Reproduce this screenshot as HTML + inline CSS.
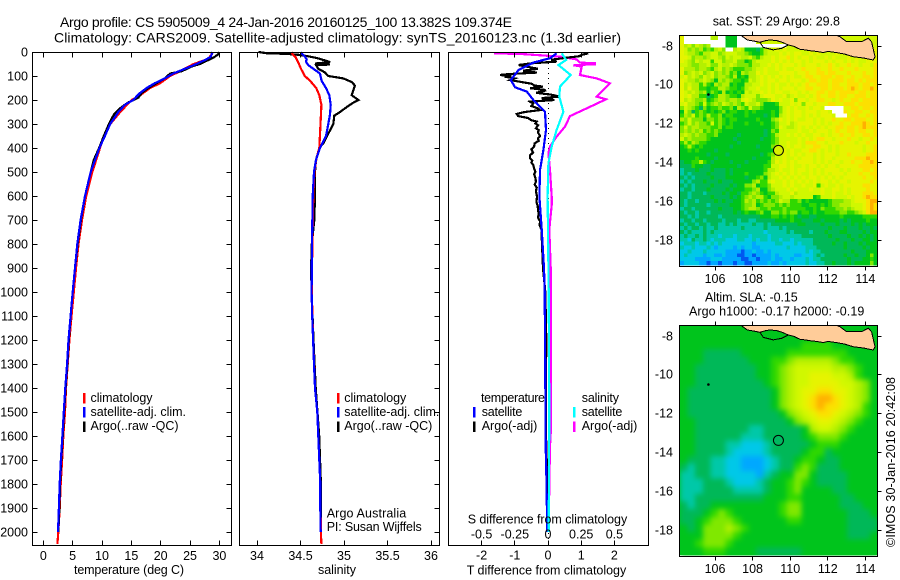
<!DOCTYPE html>
<html lang="en">
<head>
<meta charset="utf-8">
<title>Argo profile 5905009</title>
<style>
html,body{margin:0;padding:0;background:#fff;}
svg{display:block;}
text{font-family:"Liberation Sans",sans-serif;font-size:12.5px;fill:#000;}
.big{font-size:14px;}
</style>
</head>
<body>
<svg id="chart" xmlns="http://www.w3.org/2000/svg" width="900" height="580" viewBox="0 0 900 580">
<defs>
<clipPath id="clip-map1"><rect x="680" y="36" width="197" height="230"/></clipPath>
<clipPath id="clip-map2"><rect x="680" y="326" width="197" height="230"/></clipPath>
<filter id="smooth" x="-5%" y="-5%" width="110%" height="110%" color-interpolation-filters="sRGB"><feGaussianBlur stdDeviation="2.6"/></filter>
</defs>
<rect x="0" y="0" width="900" height="580" fill="#fff"/>

<text class="big" x="60" y="27" textLength="452" lengthAdjust="spacing">Argo profile: CS 5905009_4 24-Jan-2016 20160125_100 13.382S 109.374E</text>
<text class="big" x="54" y="42.5" textLength="567" lengthAdjust="spacing">Climatology: CARS2009. Satellite-adjusted climatology: synTS_20160123.nc (1.3d earlier)</text>

<g id="heat1"></g>
<g id="heat2"></g>
<g id="marks"></g>
<g id="axes"></g>

<text x="74" y="574" textLength="110" lengthAdjust="spacing">temperature (deg C)</text>
<text x="318" y="574" textLength="38" lengthAdjust="spacing">salinity</text>
<text x="466.7" y="574.5" textLength="159.5" lengthAdjust="spacing">T difference from climatology</text>
<text x="467.7" y="523.5" textLength="159.5" lengthAdjust="spacing">S difference from climatology</text>

<g>
<rect x="83" y="393" width="2.5" height="10.5" fill="#f00"/>
<rect x="83" y="407" width="2.5" height="10.5" fill="#00f"/>
<rect x="83" y="421.5" width="2.5" height="10.5" fill="#000"/>
<text x="90.5" y="402" textLength="62" lengthAdjust="spacing">climatology</text>
<text x="90.5" y="416" textLength="95.5" lengthAdjust="spacing">satellite-adj. clim.</text>
<text x="90.5" y="430" textLength="88" lengthAdjust="spacing">Argo(..raw -QC)</text>
</g>
<g>
<rect x="337" y="393" width="2.5" height="10.5" fill="#f00"/>
<rect x="337" y="407" width="2.5" height="10.5" fill="#00f"/>
<rect x="337" y="421.5" width="2.5" height="10.5" fill="#000"/>
<text x="344.3" y="402" textLength="62" lengthAdjust="spacing">climatology</text>
<text x="344.3" y="416" textLength="95" lengthAdjust="spacing">satellite-adj. clim.</text>
<text x="344.3" y="430" textLength="88" lengthAdjust="spacing">Argo(..raw -QC)</text>
<text x="326.7" y="517.5" textLength="79.5" lengthAdjust="spacing">Argo Australia</text>
<text x="326.7" y="531" textLength="95" lengthAdjust="spacing">PI: Susan Wijffels</text>
</g>
<g>
<text x="481" y="402" textLength="64" lengthAdjust="spacing">temperature</text>
<text x="481.7" y="416" textLength="40.6" lengthAdjust="spacing">satellite</text>
<text x="481.7" y="430" textLength="55.6" lengthAdjust="spacing">Argo(-adj)</text>
<text x="581.7" y="402" textLength="37.3" lengthAdjust="spacing">salinity</text>
<text x="581.7" y="416" textLength="40.6" lengthAdjust="spacing">satellite</text>
<text x="581.7" y="430" textLength="55.6" lengthAdjust="spacing">Argo(-adj)</text>
<rect x="473" y="407" width="2.5" height="10.5" fill="#00f"/>
<rect x="473" y="421.5" width="2.5" height="10.5" fill="#000"/>
<rect x="573" y="407" width="2.5" height="10.5" fill="#0ff"/>
<rect x="573" y="421.5" width="2.5" height="10.5" fill="#f0f"/>
</g>

<text x="712.7" y="25.7" textLength="127.3" lengthAdjust="spacing">sat. SST: 29 Argo: 29.8</text>
<text x="705" y="301.5" textLength="92.7" lengthAdjust="spacing">Altim. SLA: -0.15</text>
<text x="689" y="315.7" textLength="175.3" lengthAdjust="spacing">Argo h1000: -0.17 h2000: -0.19</text>
<text transform="translate(895,547) rotate(-90)" x="0" y="0" textLength="170" lengthAdjust="spacing">©IMOS 30-Jan-2016 20:42:08</text>
</svg>

<script>
// ---------- profile data: [depth, value] ----------
const tempClim = [[0,28.7],[10,28.7],[30,28],[50,25.6],[80,23.3],[100,21.6],[130,19.9],[150,18.2],[180,16.5],[200,15.05],[250,13.1],[300,11.4],[350,10.3],[400,9.66],[500,8.35],[600,7.3],[700,6.6],[800,6],[900,5.57],[1000,5.2],[1100,4.8],[1200,4.45],[1300,4.15],[1400,3.87],[1500,3.7],[1600,3.4],[1700,3.2],[1800,2.96],[1900,2.8],[2000,2.55],[2050,2.4]];
const tempSat = [[0,28.85],[20,28.5],[30,27.8],[50,26.1],[70,24.1],[90,22.1],[110,20.7],[130,19],[150,17.6],[170,16.5],[200,15.3],[220,13.9],[250,12.8],[300,11.4],[350,10.5],[400,9.55],[500,8.07],[600,7.1],[700,6.35],[800,5.8],[900,5.4],[1000,5],[1100,4.65],[1200,4.3],[1300,4.05],[1400,3.75],[1500,3.5],[1600,3.25],[1700,3],[1800,2.8],[1900,2.65],[2000,2.5]];
const tempArgo = [[0,30],[10,29.8],[20,29.2],[30,28.4],[50,26.7],[60,25.3],[80,23.6],[90,21.6],[110,20.7],[130,19.3],[150,17.9],[170,16.8],[190,16.2],[210,14.5],[230,13.3],[255,12.2],[270,11.8],[300,11.2],[350,10.3],[400,9.5],[450,8.6],[500,8.07],[600,7.1],[700,6.4],[800,5.85],[900,5.4],[1000,5],[1100,4.65],[1200,4.35],[1300,4.1],[1400,3.8],[1500,3.55],[1600,3.3],[1700,3.05],[1800,2.85],[1900,2.75],[2000,2.55]];

const salClim = [[0,34.398],[10,34.41],[20,34.44],[40,34.47],[70,34.506],[100,34.55],[120,34.61],[150,34.68],[180,34.716],[220,34.74],[300,34.73],[400,34.716],[430,34.693],[450,34.68],[500,34.66],[600,34.647],[800,34.636],[1000,34.63],[1200,34.645],[1400,34.667],[1500,34.693],[1600,34.705],[1700,34.716],[1800,34.728],[1900,34.73],[2000,34.735],[2050,34.74]];
const salSat = [[0,34.506],[10,34.525],[20,34.552],[30,34.571],[40,34.563],[55,34.59],[70,34.648],[90,34.724],[120,34.743],[150,34.793],[180,34.831],[220,34.847],[260,34.839],[300,34.82],[350,34.793],[400,34.724],[450,34.678],[500,34.655],[600,34.64],[800,34.632],[1000,34.628],[1100,34.635],[1200,34.645],[1300,34.655],[1400,34.667],[1500,34.693],[1600,34.705],[1700,34.716],[1800,34.728],[1900,34.728],[2000,34.732]];
const salArgo = [[0,34.015],[5,34.11],[8,34.34],[12,34.49],[18,34.59],[25,34.686],[35,34.78],[42,34.84],[48,34.667],[52,34.84],[55,34.68],[70,34.705],[85,34.78],[100,34.82],[110,34.992],[125,35.088],[140,35.126],[160,35.107],[180,35.088],[200,35.165],[215,35.088],[230,35.03],[255,34.935],[265,34.889],[300,34.877],[340,34.82],[380,34.762],[400,34.716],[450,34.678],[500,34.667],[600,34.667],[700,34.659],[800,34.63],[900,34.622],[1000,34.628],[1200,34.65],[1400,34.675],[1600,34.715],[1800,34.735],[2000,34.735]];

const tDiffArgo = [[6,1.21],[12,1],[17,.96],[25,.5],[32,.1],[40,.26],[47,-.5],[54,-.89],[62,-.6],[70,-.3],[78,-.75],[86,-.34],[92,-1.2],[96,-1.45],[100,-1.1],[103,-1.3],[110,-1],[117,-1.14],[125,-.8],[132,-.5],[140,-.4],[144,-.15],[151,-.54],[158,-.1],[161,-.09],[170,-.35],[178,.1],[186,.36],[192,-.2],[200,.2],[207,-.54],[215,-.45],[225,-.5],[235,-.3],[242,-.24],[250,-.7],[258,-.94],[267,-.9],[275,-.6],[284,-.5],[290,-.34],[298,-.38],[305,-.3],[318,-.36],[326,-.28],[335,-.3],[350,-.24],[360,-.3],[370,-.28],[381,-.4],[395,-.42],[405,-.5],[419,-.45],[430,-.54],[443,-.54],[452,-.47],[460,-.5],[472,-.44],[485,-.42],[500,-.38],[510,-.42],[519,-.39],[540,-.36],[552,-.4],[565,-.34],[580,-.36],[603,-.33],[625,-.35],[640,-.31],[660,-.3],[672,-.28],[690,-.3],[705,-.24],[722,-.25],[739,-.2],[800,-.18],[900,-.15],[1000,-.08],[1200,-.05],[1350,-.06],[1550,-.07],[1700,-.04],[2000,-.02]];
const tDiffSat = [[6,.26],[26,.06],[44,-.44],[75,-.89],[117,-1.12],[147,-.99],[165,-.64],[200,-.44],[228,-.24],[249,-.09],[325,-.06],[408,-.14],[492,-.24],[603,-.26],[739,-.19],[900,-.12],[1000,-.1],[1367,-.08],[1645,-.07],[1750,-.05],[2000,-.02]];
const sDiffSat = [[6,.103],[33,.136],[54,.078],[96,.171],[144,.09],[186,.085],[249,.116],[325,.065],[394,.028],[464,.003],[603,-.003],[739,0],[1000,.005],[1500,.01],[2000,.005]];
const sDiffArgo = [[6,-.407],[8,-.211],[19,.09],[31,.216],[44,.241],[47,.354],[51,.354],[55,.191],[61,.254],[96,.241],[110,.367],[131,.467],[158,.417],[186,.367],[197,.437],[235,.291],[267,.166],[311,.128],[353,.065],[394,.015],[422,.003],[492,.015],[603,.028],[637,.028],[739,.01],[900,.02],[1367,.023],[1560,.023],[1640,.015],[1800,.01],[2000,.005]];

// ---------- tick labels ----------
const depthTicks = [0,100,200,300,400,500,600,700,800,900,1000,1100,1200,1300,1400,1500,1600,1700,1800,1900,2000];
const tempTicks = [0,5,10,15,20,25,30];
const salTicks = [34,34.5,35,35.5,36];
const tDiffTicks = [-2,-1,0,1,2];
const sDiffTicks = [-0.5,-0.25,0,0.25,0.5];
const lonTicks = [106,108,110,112,114];
const latTicks = [-8,-10,-12,-14,-16,-18];

// ---------- map data: colour level per cell ----------
const levelColours = {'0':'#0058f0','1':'#00a8ff','2':'#00c8e8','3':'#00c8a8','4':'#00b858','5':'#00c41c','6':'#30d800','7':'#80e800','8':'#b4f000','9':'#d0f800','a':'#e6f400','b':'#fce000','c':'#ffb000','w':'#ffffff'};
const sstRows = [
"awwwwwww88ww555www9999999999999999999999999999999999",
"awwwwwwwwwww555wwwww99999999999999999999999999999999",
"a8979878wwww555wwwwwwwwwwwww99999999999999999999a999",
"a97878676897ww89855546899a9a999999999999999999999baa",
"a9887688997899988765568999a9a9aa99a9a9999a99a9999baa",
"aa9788789987989988976899a9aab9a9aa9a99a9a999a9a9aa9a",
"a98798996997889775689999a9a9a9aa9a9aaa9a9aa9a9a99aaa",
"99877889779889877768899a9a9aaa9a9aaa9aaba9aabaa9aa9b",
"a888788768978766677899a99a9a99aabaaabaabaabaaabaaaab",
"a7898978978786758788a9a999aaaa9aabaabbabbaaabaaabaab",
"9a8987989788768565889a9a9a9a9a99abbaabbbabbaabaabbab",
"a98878987587876656989a9aa9aa9aaa9abbabbabbbabbababbb",
"a89886865878856558899a9a9a99a9a9abaabbbabbaabbbabbab",
"a8a88665668876656899a99a9a9aaa9aabbaabbabbbabcbabbcb",
"a98987857658565659899a9a9aa99aa9a9aabbabbabbbbabbabb",
"a9a8866456887665899979aaa99a89a99a9abaabbabbaabbbabb",
"a8987785678878879a987778a9a99a7aa9aabbaa9abaabbabbbb",
"9a887696787987876988975556999a9a7aa9aaabbaabbbabbbbb",
"7987647566766758769776555579a9a99a9aa9wwwwwaabbabbab",
"5974676565675665565655556579a9aa9aaa9aa9wwwbaabbaabb",
"6879676866756655565555456589a9aa9a9a9aaa9wwwabbaabab",
"87977757767656655555655578a9a9a99aa9a9aabaabbabbbaab",
"6797877696765655565556556799a89aaaa9a9a9aabaabbbcbab",
"79788777667566555555555567a9889a9a9a9a9aabbabbabcbbb",
"7878786767655555555555457699999a99a9aaa9abaabbabbaab",
"8987877667555554555555456899a9a9a99aa9a9aabaabaabbab",
"9787777655555545555554556799999a9a9abbaa9aaabaa9aaba",
"6868766555555554555555556799a99a9bbbaa9aaabaaa9aabaa",
"5686565555555455555545557899a9aa9aabbaa9a9aaaaaa9aab",
"556565555455555555555555589a9a99aabba9a9a9aaaaaa9aab",
"555555545555455555555456799a9a9a9aa9a9aaa9aabaaaabbb",
"555565555455555555545555899a99a9aaa9a9aa9aaaaabbbcbb",
"4556686545555455545555568a9a9a9aaaa9a9a9aa9aabaabbcb",
"44465544555555545555556699aa9a99a9aa9a9aa9aaaaabbbbb",
"34445444544454555555556889a99a9aa9a9a9aaaa9a9aaabbab",
"3434444544445455565555789a9a9a9a99a9a9a9aaa9aaabaabb",
"43434444544455555455675899a9a9a9a9aa9a9a9a9aaaaabaab",
"343444544454445555578669a99a9a9a9a9a9aa9a9aa9aaaaaba",
"434344445444454557785667999a9a99a99a69a99a9aaaaabbaa",
"3443444544445455566785578999a9a999a99a99aa9a9aaaabaa",
"44344434444545546678765668999a8999999a99a99a9aaabbba",
"4434444454444545678788657789989999956999a999a9aabcbb",
"4344344445454455687867676798866756555556777889aaabcc",
"434444434444455567785677767676665566565677888999abcb",
"344344444454445567887667666766666556576667787899abcb",
"4344344344444454565567557767677566565566667766789bcc",
"4434344444344444444445556656565455445555556555556666",
"3443443444434443443344444555565544455455554545555655",
"4344344344334343333433434444444554444544454445454555",
"3434434334333333433333433343444444444445444544454454",
"4343334343333333333333233333434444344454445544445455",
"3433434333233323332333323333333344444445444454454545",
"3324334323332223322323323323323333344444454445445545",
"2333233232322222222122222332223233344444544544454555",
"3223222321222212122112222222322223334444444544445455",
"2232223222221111011211212222222223233444444445444555",
"2322221221121110011011112122221122234344444544544575",
"2222111122211111001101112112212223233444444454445565",
"1222211011011101100111121121222223223344544454555575"
];
const slaRows = [
"55555555555555555555555555",
"55555555555555555555555555",
"55555555555555556666555555",
"55544444555555666666665555",
"55544444455566788888766555",
"55444444445567899999887655",
"55444444445567899aaa998655",
"55444444444567899aaaa99875",
"5444444444445789aabbaa9875",
"5444444444445789abccba9875",
"5444444444445789abcbba9865",
"54444444444445789abba98765",
"55444444444444578 9aa987655".replace(' ',''),
"55444444433444445899876555",
"55444444333444445677765555",
"55444433222344444566655555",
"55444432222344445664555555",
"54443322111234456654455555",
"43443322111234467644455555",
"33443322221345577544445555",
"33344432223455676544445555",
"33344443333455675555445555",
"33444444444555665555544555",
"43445555555556775555544455",
"44456765555556775555554445",
"44567776555555665555554444",
"54577787655555555555554444",
"55577776555555555555554445",
"55677765555555555555555555",
"55566655554444445555555555"
];

// ---------- geography in lon/lat ----------
const landOutline = [[107.41,-7.47],[107.72,-7.69],[108.05,-7.74],[108.39,-7.81],[108.7,-7.72],[108.92,-7.69],[109.28,-7.72],[109.6,-7.82],[109.9,-7.95],[110.2,-8.02],[110.52,-8.17],[110.8,-8.2],[111.05,-8.24],[111.4,-8.28],[111.76,-8.34],[112,-8.28],[112.47,-8.34],[112.9,-8.42],[113.35,-8.55],[113.9,-8.62],[114.42,-8.72],[114.51,-8.55],[114.33,-7.79],[114.15,-7.6],[113.8,-7.78],[113,-7.78],[112.65,-7.52],[112.5,-7.47]];
const coastPatch = [[108.39,-7.81],[108.57,-8.07],[109.1,-8.2],[109.54,-8.12],[109.9,-7.95]];
const argoPosition = [109.374,-13.382];
const islandPosition = [105.65,-10.5];

// ---------- axis functions ----------
const SVGNS = 'http://www.w3.org/2000/svg';
const yD = d => 52 + d * 0.24;
const xT = t => 43.3 + t * 5.87;
const xS = s => 257 + (s - 34) * 87;
const xTd = t => 548 + t * 33.2;
const xSd = s => 548 + s * 132.8;
const xLon = lon => 715 + (lon - 106) * 18.8;
const yLat1 = lat => 46 + (-8 - lat) * 19.4;
const yLat2 = lat => 336 + (-8 - lat) * 19.4;

const marks = document.getElementById('marks');
const axes = document.getElementById('axes');

function drawSeries(points, xf, colour, name) {
  const el = document.createElementNS(SVGNS, 'polyline');
  el.setAttribute('points', points.map(p => xf(p[1]).toFixed(1) + ',' + yD(p[0]).toFixed(1)).join(' '));
  el.setAttribute('fill', 'none');
  el.setAttribute('stroke', colour);
  el.setAttribute('stroke-width', '2.2');
  el.setAttribute('shape-rendering', 'crispEdges');
  
  
  marks.appendChild(el);
}
function seg(x1, y1, x2, y2, name) {
  const el = document.createElementNS(SVGNS, 'line');
  el.setAttribute('x1', x1);
  el.setAttribute('y1', y1);
  el.setAttribute('x2', x2);
  el.setAttribute('y2', y2);
  el.setAttribute('stroke', '#000');
  el.setAttribute('stroke-width', '1');
  el.setAttribute('shape-rendering', 'crispEdges');
  
  
  axes.appendChild(el);
}
function label(x, y, str, anchor, name) {
  const el = document.createElementNS(SVGNS, 'text');
  el.setAttribute('x', x);
  el.setAttribute('y', y);
  el.setAttribute('text-anchor', anchor);
  
  
  el.textContent = str;
  axes.appendChild(el);
}
function frame(x, y, w, h, name) {
  const el = document.createElementNS(SVGNS, 'rect');
  el.setAttribute('x', x);
  el.setAttribute('y', y);
  el.setAttribute('width', w);
  el.setAttribute('height', h);
  el.setAttribute('fill', 'none');
  el.setAttribute('stroke', '#000');
  el.setAttribute('stroke-width', '1');
  el.setAttribute('shape-rendering', 'crispEdges');
  
  
  axes.appendChild(el);
}

// ---------- profile panels ----------
drawSeries(tempClim, xT, '#f00', 'temperature-climatology-line');
drawSeries(tempArgo, xT, '#000', 'temperature-argo-line');
drawSeries(tempSat, xT, '#00f', 'temperature-satellite-line');
drawSeries(salArgo, xS, '#000', 'salinity-argo-line');
drawSeries(salClim, xS, '#f00', 'salinity-climatology-line');
drawSeries(salSat, xS, '#00f', 'salinity-satellite-line');

const zeroLine = document.createElementNS(SVGNS, 'line');
zeroLine.setAttribute('x1', xTd(0) + 0.5);
zeroLine.setAttribute('x2', xTd(0) + 0.5);
zeroLine.setAttribute('y1', 53);
zeroLine.setAttribute('y2', 545);
zeroLine.setAttribute('stroke', '#000');
zeroLine.setAttribute('stroke-width', '1');
zeroLine.setAttribute('stroke-dasharray', '1 4');


marks.appendChild(zeroLine);

drawSeries(sDiffArgo, xSd, '#f0f', 'salinity-difference-argo-line');
drawSeries(tDiffArgo, xTd, '#000', 'temperature-difference-argo-line');
drawSeries(tDiffSat, xTd, '#00f', 'temperature-difference-satellite-line');
drawSeries(sDiffSat, xSd, '#0ff', 'salinity-difference-satellite-line');

frame(32.5, 52.5, 199, 493, 'temperature-panel-frame');
frame(239.5, 52.5, 200, 493, 'salinity-panel-frame');
frame(448.5, 52.5, 200, 493, 'difference-panel-frame');

depthTicks.forEach(d => {
  const y = Math.floor(yD(d)) + 0.5;
  seg(32.5, y, 37.5, y, 'depth-tick-left');
  seg(226.5, y, 231.5, y, 'depth-tick-right');
  seg(434.5, y, 439.5, y, 'salinity-panel-depth-tick');
  label(28, y + 4, String(d), 'end', 'depth-tick-label');
});
tempTicks.forEach(t => {
  const x = Math.floor(xT(t)) + 0.5;
  seg(x, 52.5, x, 57.5, 'temperature-tick-top');
  seg(x, 540.5, x, 545.5, 'temperature-tick-bottom');
  label(xT(t), 560, String(t), 'middle', 'temperature-tick-label');
});
salTicks.forEach(s => {
  const x = Math.floor(xS(s)) + 0.5;
  seg(x, 52.5, x, 57.5, 'salinity-tick-top');
  seg(x, 540.5, x, 545.5, 'salinity-tick-bottom');
  label(xS(s), 560, String(s), 'middle', 'salinity-tick-label');
});
tDiffTicks.forEach(t => {
  const x = Math.floor(xTd(t)) + 0.5;
  seg(x, 52.5, x, 57.5, 'difference-tick-top');
  seg(x, 540.5, x, 545.5, 'difference-tick-bottom');
  label(xTd(t), 559.5, String(t), 'middle', 't-difference-tick-label');
});
sDiffTicks.forEach(s => {
  label(xSd(s), 538.5, String(s), 'middle', 's-difference-tick-label');
});

// ---------- maps ----------
function drawCells(group, rows, x0, y0, w, h, name) {
  const cols = rows[0].length;
  const cw = w / cols;
  const ch = h / rows.length;
  rows.forEach((row, r) => {
    for (let c = 0; c < row.length; c++) {
      const cell = document.createElementNS(SVGNS, 'rect');
      cell.setAttribute('x', (x0 + c * cw).toFixed(2));
      cell.setAttribute('y', (y0 + r * ch).toFixed(2));
      cell.setAttribute('width', (cw + 0.3).toFixed(2));
      cell.setAttribute('height', (ch + 0.3).toFixed(2));
      cell.setAttribute('fill', levelColours[row[c]]);
      cell.setAttribute('shape-rendering', 'crispEdges');
      
      
      group.appendChild(cell);
    }
  });
}
function addOverlay(group, yf, circleFill, prefix) {
  const land = document.createElementNS(SVGNS, 'polygon');
  land.setAttribute('points', landOutline.map(p => xLon(p[0]).toFixed(1) + ',' + yf(p[1]).toFixed(1)).join(' '));
  land.setAttribute('fill', '#ffcc99');
  land.setAttribute('stroke', '#000');
  land.setAttribute('stroke-width', '1');
  land.setAttribute('shape-rendering', 'crispEdges');
  
  
  group.appendChild(land);

  const coast = document.createElementNS(SVGNS, 'polyline');
  coast.setAttribute('points', coastPatch.map(p => xLon(p[0]).toFixed(1) + ',' + yf(p[1]).toFixed(1)).join(' '));
  coast.setAttribute('fill', 'none');
  coast.setAttribute('stroke', '#000');
  coast.setAttribute('stroke-width', '1');
  coast.setAttribute('shape-rendering', 'crispEdges');
  
  
  group.appendChild(coast);

  const island = document.createElementNS(SVGNS, 'circle');
  island.setAttribute('cx', xLon(islandPosition[0]));
  island.setAttribute('cy', yf(islandPosition[1]));
  island.setAttribute('r', '1.3');
  island.setAttribute('fill', '#000');
  
  
  group.appendChild(island);

  const dot = document.createElementNS(SVGNS, 'circle');
  dot.setAttribute('cx', xLon(argoPosition[0]));
  dot.setAttribute('cy', yf(argoPosition[1]));
  dot.setAttribute('r', '5');
  dot.setAttribute('fill', circleFill);
  dot.setAttribute('stroke', '#000');
  dot.setAttribute('stroke-width', '1');
  
  
  group.appendChild(dot);
}

const heat1 = document.getElementById('heat1');
heat1.setAttribute('clip-path', 'url(#clip-map1)');
const cells1 = document.createElementNS(SVGNS, 'g');


heat1.appendChild(cells1);
drawCells(cells1, sstRows, 680, 36, 197.5, 229, 'sst-cell');
addOverlay(heat1, yLat1, '#d8f000', 'sst-map');

const heat2 = document.getElementById('heat2');
heat2.setAttribute('clip-path', 'url(#clip-map2)');
const base2 = document.createElementNS(SVGNS, 'rect');
base2.setAttribute('x', 680);
base2.setAttribute('y', 326);
base2.setAttribute('width', 198);
base2.setAttribute('height', 229);
base2.setAttribute('fill', '#00c41c');


heat2.appendChild(base2);
const cells2 = document.createElementNS(SVGNS, 'g');
cells2.setAttribute('filter', 'url(#smooth)');


heat2.appendChild(cells2);
drawCells(cells2, slaRows, 680, 326, 197.5, 229, 'sla-cell');
addOverlay(heat2, yLat2, '#00b860', 'sla-map');

frame(679.5, 35.5, 198, 231, 'sst-map-frame');
frame(679.5, 325.5, 198, 231, 'sla-map-frame');

lonTicks.forEach(lon => {
  const x = Math.floor(xLon(lon)) + 0.5;
  seg(x, 31.5, x, 35.5, 'sst-map-tick-top');
  seg(x, 266.5, x, 270.5, 'sst-map-tick-bottom');
  seg(x, 321.5, x, 325.5, 'sla-map-tick-top');
  seg(x, 556.5, x, 560.5, 'sla-map-tick-bottom');
  label(xLon(lon), 283, String(lon), 'middle', 'sst-map-longitude-label');
  label(xLon(lon), 573, String(lon), 'middle', 'sla-map-longitude-label');
});
latTicks.forEach(lat => {
  const y1 = Math.floor(yLat1(lat)) + 0.5;
  const y2 = Math.floor(yLat2(lat)) + 0.5;
  seg(877.5, y1, 881.5, y1, 'sst-map-tick-right');
  seg(877.5, y2, 881.5, y2, 'sla-map-tick-right');
  label(673, y1 + 4, String(lat), 'end', 'sst-map-latitude-label');
  label(673, y2 + 4, String(lat), 'end', 'sla-map-latitude-label');
});
</script>
</body>
</html>
